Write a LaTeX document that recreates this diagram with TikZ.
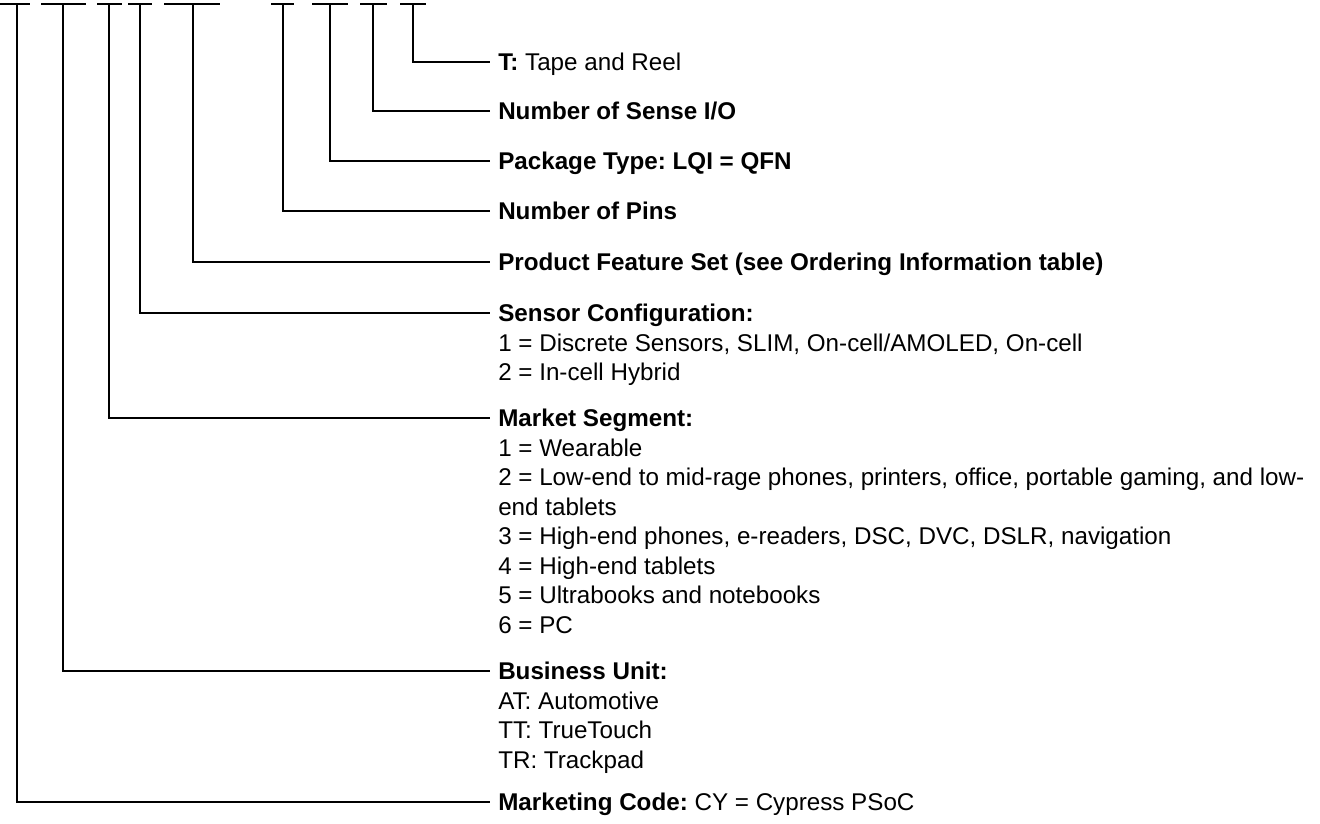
\documentclass[tikz,border=0pt]{standalone}
\usepackage{fontspec}
\setmainfont{Liberation Sans}
\frenchspacing
\begin{document}
\begin{tikzpicture}[x=0.75pt,y=-0.75pt,
  lbl/.style={anchor=west,inner sep=0pt,text height=13.1pt,text depth=0pt,
    font=\fontsize{18.15}{22}\selectfont},
  lead/.style={draw=black,line width=1.15pt},
  bar/.style={draw=black,line width=1.15pt}]
\useasboundingbox (0,0) rectangle (1320,824);
% top bars
\draw[bar] (0,4) -- (30,4);
\draw[bar] (41,4) -- (86,4);
\draw[bar] (97,4) -- (122,4);
\draw[bar] (128,4) -- (152,4);
\draw[bar] (164,4) -- (220,4);
\draw[bar] (271,4) -- (294,4);
\draw[bar] (312,4) -- (348,4);
\draw[bar] (360,4) -- (387,4);
\draw[bar] (400,4) -- (426,4);
\coordinate (v1) at (17,4);
\coordinate (v2) at (63,4);
\coordinate (v3) at (109,4);
\coordinate (v4) at (140,4);
\coordinate (v5) at (193,4);
\coordinate (v6) at (283,4);
\coordinate (v7) at (330,4);
\coordinate (v8) at (373,4);
\coordinate (v9) at (413,4);
% labels
\node[lbl] (hT) at (498,62) {\textbf{T:} Tape and Reel};
\node[lbl] (hSense) at (498,111) {\textbf{Number of Sense I/O}};
\node[lbl] (hPkg) at (498,161) {\textbf{Package Type: LQI = QFN}};
\node[lbl] (hPins) at (498,211) {\textbf{Number of Pins}};
\node[lbl] (hProd) at (498,262) {\textbf{Product Feature Set (see Ordering Information table)}};
\node[lbl] (hSens) at (498,313) {\textbf{Sensor Configuration:}};
\node[lbl] (s1) at (498,342.5) {1 = Discrete Sensors, SLIM, On-cell/AMOLED, On-cell};
\node[lbl] (s2) at (498,372) {2 = In-cell Hybrid};
\node[lbl] (hMkt) at (498,418) {\textbf{Market Segment:}};
\node[lbl] (m1) at (498,447.5) {1 = Wearable};
\node[lbl] (m2) at (498,477) {2 = Low-end to mid-rage phones, printers, office, portable gaming, and low-};
\node[lbl] (m2b) at (498,506.5) {end tablets};
\node[lbl] (m3) at (498,536) {3 = High-end phones, e-readers, DSC, DVC, DSLR, navigation};
\node[lbl] (m4) at (498,565.5) {4 = High-end tablets};
\node[lbl] (m5) at (498,595) {5 = Ultrabooks and notebooks};
\node[lbl] (m6) at (498,624.5) {6 = PC};
\node[lbl] (hBU) at (498,671) {\textbf{Business Unit:}};
\node[lbl] (b1) at (498,700.5) {AT: Automotive};
\node[lbl] (b2) at (498,730) {TT: TrueTouch};
\node[lbl] (b3) at (498,759.5) {TR: Trackpad};
\node[lbl] (hMC) at (498,802) {\textbf{Marketing Code:} CY = Cypress PSoC};
% leaders
\draw[lead] (v9) |- ([xshift=-6pt]hT.west);
\draw[lead] (v8) |- ([xshift=-6pt]hSense.west);
\draw[lead] (v7) |- ([xshift=-6pt]hPkg.west);
\draw[lead] (v6) |- ([xshift=-6pt]hPins.west);
\draw[lead] (v5) |- ([xshift=-6pt]hProd.west);
\draw[lead] (v4) |- ([xshift=-6pt]hSens.west);
\draw[lead] (v3) |- ([xshift=-6pt]hMkt.west);
\draw[lead] (v2) |- ([xshift=-6pt]hBU.west);
\draw[lead] (v1) |- ([xshift=-6pt]hMC.west);
\end{tikzpicture}
\end{document}
